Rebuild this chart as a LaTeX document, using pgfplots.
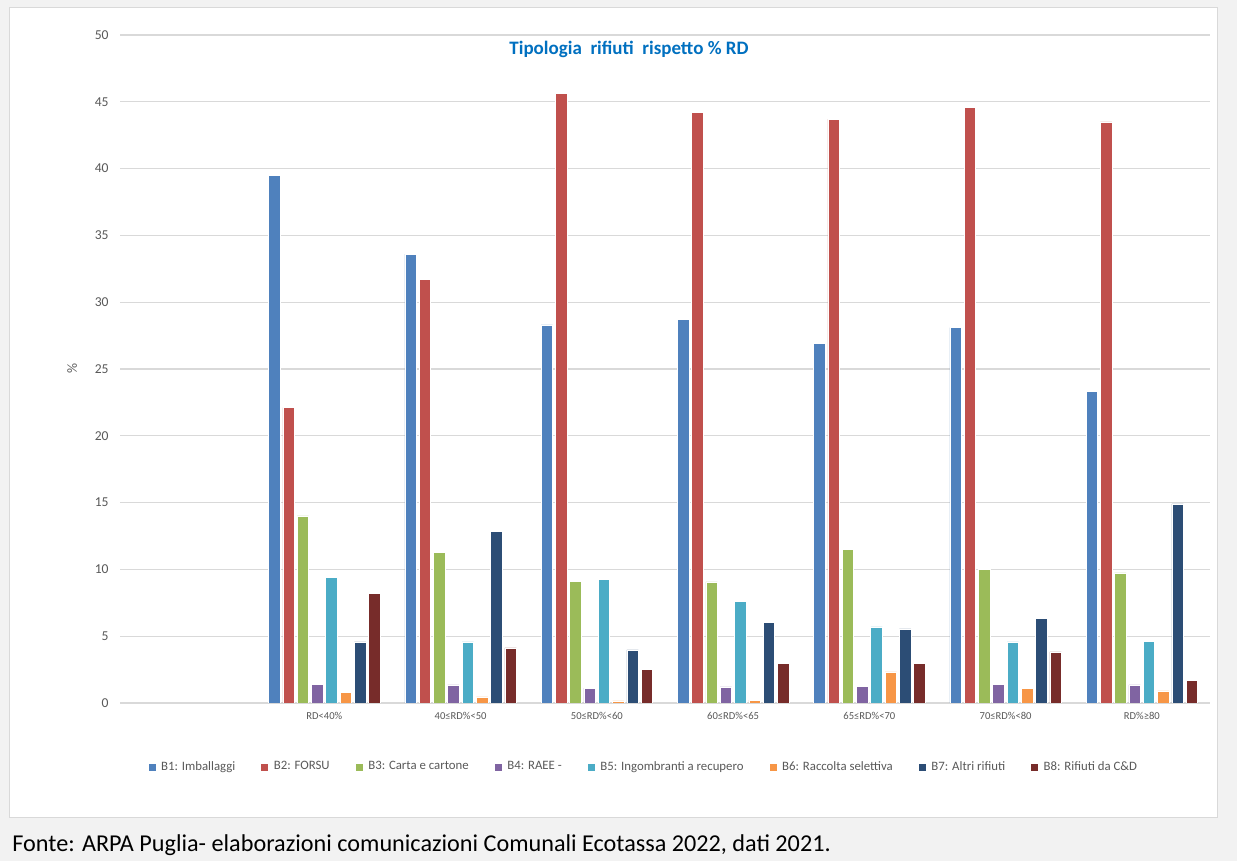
\documentclass[border=0pt]{standalone}
\usepackage{pgfplots}
\pgfplotsset{compat=1.18}
\usepackage{pgfplotstable}
\usepackage{fontspec}
\setmainfont{Carlito}

\definecolor{bgGray}{HTML}{F2F2F2}
\definecolor{boxLine}{HTML}{D9D9D9}
\definecolor{gridGray}{HTML}{D9D9D9}
\definecolor{tickGray}{HTML}{595959}
\definecolor{titleBlue}{HTML}{0070C0}
\definecolor{cA}{HTML}{4F81BD}
\definecolor{cB}{HTML}{C0504D}
\definecolor{cC}{HTML}{9BBB59}
\definecolor{cD}{HTML}{8064A2}
\definecolor{cE}{HTML}{4BACC6}
\definecolor{cF}{HTML}{F79646}
\definecolor{cG}{HTML}{2C4D75}
\definecolor{cH}{HTML}{772C2A}

% percentuali per classe di RD (slot 0 vuoto)
\pgfplotstableread{
x  b1    b2    b3    b4   b5   b6   b7    b8
1  39.5  22.1  14.0  1.42 9.43 0.82 4.57  8.23
2  33.6  31.7  11.3  1.35 4.57 0.45 12.87 4.12
3  28.3  45.6  9.13  1.12 9.28 0.15 3.97  2.54
4  28.7  44.2  9.06  1.20 7.63 0.22 6.06  2.99
5  26.9  43.7  11.5  1.27 5.69 2.32 5.54  2.99
6  28.1  44.6  10.0  1.42 4.57 1.12 6.36  3.82
7  23.35 43.5  9.73  1.35 4.64 0.90 14.9  1.72
}\datatable

\begin{document}
\begin{tikzpicture}[x=1pt,y=1pt]
\path[use as bounding box, fill=bgGray] (0,0) rectangle (618.5,430.5);
\draw[fill=white, draw=boxLine, line width=0.5pt] (4.5,21.5) rectangle (608.5,426.5);

\begin{axis}[
    at={(60pt,79pt)}, anchor=south west,
    scale only axis,
    width=545pt, height=334pt,
    ybar=1.4pt,
    bar width=5.75pt,
    xmin=-0.5, xmax=7.5,
    ymin=0, ymax=50,
    xtick={1,2,3,4,5,6,7},
    xticklabels={RD<40\%, 40≤RD\%<50, 50≤RD\%<60, 60≤RD\%<65, 65≤RD\%<70, 70≤RD\%<80, RD\%≥80},
    ytick={0,5,...,50},
    ymajorgrids=true,
    grid style={draw=gridGray, line width=0.6pt},
    axis line style={draw=none},
    major tick length=0pt,
    /pgf/number format/assume math mode=true,
    xticklabel style={font=\fontsize{5.3}{6}\selectfont, text=tickGray, anchor=north, inner sep=0pt, yshift=-4.5pt},
    yticklabel style={font=\fontsize{6.8}{8}\selectfont, text=tickGray, anchor=east, inner sep=0pt, xshift=-5.5pt},
    ylabel={\%},
    ylabel style={at={(axis description cs:-0.044,0.5)}, anchor=center, font=\fontsize{7}{8}\selectfont, text=tickGray},
    legend columns=8,
    legend style={at={(0.481,-0.096)}, anchor=center, draw=none, fill=none,
        font=\fontsize{6.4}{7.5}\selectfont, text=tickGray,
        /tikz/every even column/.append style={column sep=10.5pt},
        /tikz/every odd column/.append style={column sep=0.5pt}},
    legend image code/.code={\fill[#1] (0pt,-2pt) rectangle (4pt,2pt);},
    every axis plot/.append style={draw=white, line width=0.3pt},
]
\addplot[fill=cA] table[x=x,y=b1]{\datatable};
\addplot[fill=cB] table[x=x,y=b2]{\datatable};
\addplot[fill=cC] table[x=x,y=b3]{\datatable};
\addplot[fill=cD] table[x=x,y=b4]{\datatable};
\addplot[fill=cE] table[x=x,y=b5]{\datatable};
\addplot[fill=cF] table[x=x,y=b6]{\datatable};
\addplot[fill=cG] table[x=x,y=b7]{\datatable};
\addplot[fill=cH] table[x=x,y=b8]{\datatable};
\legend{B1: Imballaggi, B2: FORSU, B3: Carta e cartone, B4: RAEE -, B5: Ingombranti a recupero, B6: Raccolta selettiva, B7: Altri rifiuti, B8: Rifiuti da C\&D}
\end{axis}

\node[anchor=base, inner sep=0pt, text=titleBlue, font=\bfseries\fontsize{9.5}{11}\selectfont] at (314.5,403) {Tipologia\ \ rifiuti\ \ rispetto \% RD};
\node[anchor=base west, inner sep=0pt, font=\fontsize{12.1}{14}\selectfont] at (6,4.5) {Fonte: ARPA Puglia- elaborazioni comunicazioni Comunali Ecotassa 2022, dati 2021.};
\end{tikzpicture}
\end{document}
